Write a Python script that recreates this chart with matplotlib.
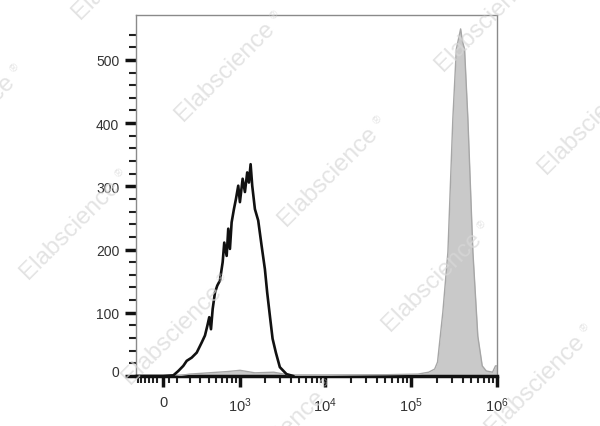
import numpy as np
import matplotlib
matplotlib.use("Agg")
import matplotlib.pyplot as plt
import matplotlib.transforms as mtrans
from matplotlib.ticker import FixedLocator, NullFormatter

plt.rcParams['font.family'] = ['Liberation Sans', 'DejaVu Sans']
plt.rcParams['mathtext.fontset'] = 'custom'
plt.rcParams['mathtext.rm'] = 'Liberation Sans'
plt.rcParams['mathtext.it'] = 'Liberation Sans'

# black (control) histogram: fluorescence value, count
black_x = [-200, 0, 72, 109, 147, 175, 218, 266, 318, 355,
           383, 408, 431, 454, 487, 522, 565, 612, 641, 687,
           719, 754, 791, 844, 893, 952, 997, 1075, 1145, 1219,
           1277, 1338, 1398, 1504, 1645, 1804, 1972, 2098, 2257, 2427,
           2652, 2951, 3530, 4221]
black_y = [0, 0, 1, 8, 16, 24, 29, 37, 53, 64,
           79, 93, 74, 106, 132, 143, 151, 180, 211, 190,
           233, 201, 243, 264, 280, 301, 275, 312, 291, 322,
           306, 335, 301, 264, 246, 206, 169, 132, 95, 59,
           37, 14, 3, 0]

# grey filled (stained) histogram
grey_x = [-200, 100, 200, 400, 700, 1000, 1500, 2500, 4000, 1e4, 5e4, 1.2e5,
          1.6e5, 1.88e5, 2.03e5, 2.34e5, 2.68e5, 3.06e5, 3.36e5, 3.77e5,
          3.95e5, 4.19e5, 4.58e5, 5.24e5, 5.98e5, 6.73e5, 7.5e5, 8.87e5,
          9.6e5, 1e6]
grey_y = [0, 0, 3, 5, 7, 9, 5, 6, 1, 1, 2, 3,
          6, 11, 22, 101, 196, 407, 517, 549,
          530, 517, 407, 196, 63, 16, 8, 6,
          16, 16]

x_major = [0, 1e3, 1e4, 1e5, 1e6]
x_labels = ['0', r'$10^{3}$', r'$10^{4}$', r'$10^{5}$', r'$10^{6}$']
y_major = [0, 100, 200, 300, 400, 500]

W = 258.0
fwd = lambda v: np.arcsinh(np.asarray(v) / W)
inv = lambda f: W * np.sinh(np.asarray(f))

fig = plt.figure(figsize=(6, 4.27), dpi=100)
ax = fig.add_axes([136 / 600, 1 - 377 / 427, 361 / 600, 361 / 427])
ax.set_xscale('function', functions=(fwd, inv))

ax.fill_between(grey_x, grey_y, 0, color='#c9c9c9', lw=0, zorder=2)
ax.plot(grey_x, grey_y, color='#a6a6a6', lw=1.0, zorder=3)
ax.plot(black_x, black_y, color='#111111', lw=1.9, zorder=4)

ax.set_xlim(-204, 1e6)
ax.set_ylim(0, 571)

minor_x = [-190, -160, -130, -100, -70, -40, 40, 100, 200, 300, 400, 500,
           600, 700, 800, 900]
for d in [1e3, 1e4, 1e5]:
    minor_x += [k * d for k in range(2, 10)]
ax.xaxis.set_major_locator(FixedLocator(x_major))
ax.set_xticklabels(x_labels)
ax.xaxis.set_minor_locator(FixedLocator(minor_x))
ax.xaxis.set_minor_formatter(NullFormatter())
ax.yaxis.set_major_locator(FixedLocator(y_major))
ax.yaxis.set_minor_locator(FixedLocator([v for v in range(20, 560, 20) if v % 100]))

ax.tick_params(which='major', direction='out', length=8, width=2.5, color='#111111',
               labelsize=10, labelcolor='#333333')
ax.tick_params(which='minor', direction='out', length=5, width=1.5, color='#222222')
ax.tick_params(axis='x', which='major', pad=6, labelsize=10.5)
ax.tick_params(axis='y', which='major', pad=4)

# the "0" label on y sits a bit above its tick in the original
lab0 = ax.yaxis.get_major_ticks()[0].label1
lab0.set_transform(lab0.get_transform() +
                   mtrans.ScaledTranslation(0, 4 / 72, fig.dpi_scale_trans))

for s in ['top', 'right', 'left']:
    ax.spines[s].set_color('#8a8a8a')
    ax.spines[s].set_linewidth(1.0)
ax.spines['bottom'].set_color('#111111')
ax.spines['bottom'].set_linewidth(2.5)

# watermarks
for cx, cy in [(122, -30), (225, 72), (328, 177), (432, 282), (535, 385),
               (382, -82), (485, 22), (588, 125),
               (-35, 125), (70, 230), (172, 335), (275, 440)]:
    fig.text(cx / 600, 1 - cy / 427, 'Elabscience', rotation=45,
             ha='center', va='center', fontsize=17.5, color='#d8d8d8',
             alpha=0.7, zorder=10)
    fig.text((cx + 50) / 600, 1 - (cy - 57) / 427, '\u00ae', rotation=45,
             ha='center', va='center', fontsize=8, color='#d8d8d8',
             alpha=0.7, zorder=10)

fig.savefig('out.png', dpi=100)
